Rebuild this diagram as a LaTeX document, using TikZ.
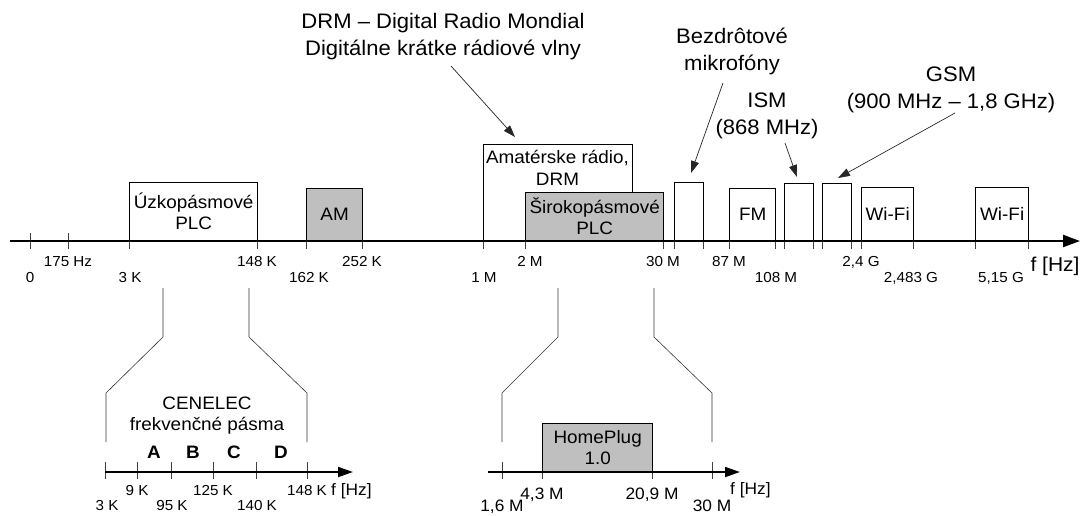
\documentclass[tikz,border=0pt]{standalone}
\usepackage{fontspec}
\setmainfont{Liberation Sans}[FakeStretch=1.05]
\usetikzlibrary{arrows.meta}
\begin{document}
\begin{tikzpicture}[x=1pt,y=-1pt,
  band/.style={draw=black,line width=1.3pt,fill=white,inner sep=0pt,anchor=south west,align=center,font=\fontsize{18}{21}\selectfont},
  gband/.style={band,fill=gray!50},
  tk/.style={draw=gray!50!black,line width=0.8pt},
  lbl/.style={font=\fontsize{14.5}{14.5}\selectfont,anchor=base,inner sep=0pt},
  blbl/.style={font=\fontsize{16.5}{16.5}\selectfont,anchor=base,inner sep=0pt},
  abcd/.style={font=\fontsize{18}{18}\selectfont\bfseries,anchor=base,inner sep=0pt},
  note/.style={font=\fontsize{21}{27}\selectfont,align=center,inner sep=0pt},
  callout/.style={draw=gray!30!black,line width=0.7pt,-{Triangle[length=12pt,width=8pt]}},
  zoomline/.style={draw=gray!40!black,line width=0.6pt},
  axis/.style={draw=black,line width=2.2pt,-{Triangle[length=17pt,width=12pt]}},
  subaxis/.style={draw=black,line width=1.8pt,-{Triangle[length=15pt,width=10pt]}},
]
\useasboundingbox (0,0) rectangle (1087,515);
\fill[white] (0,0) rectangle (1087,515);

% ---------- main axis ticks ----------
\foreach \x in {30,68} \draw[tk] (\x,233) -- (\x,249);
\foreach \x in {129,257,306,362,483,525,663,674,703,729,775,784,813,822,851,861,913,975,1028}
  \draw[tk] (\x,241) -- (\x,249);

% ---------- bands ----------
\node[band,minimum width=128pt,minimum height=58pt] (uzk) at (129,241) {Úzkopásmové\\PLC};
\node[gband,minimum width=56pt,minimum height=52pt] (am) at (306,241) {AM};
\node[band,minimum width=149pt,minimum height=96pt] (amat) at (483,241) {};
\node[anchor=north,inner sep=0pt,align=center,font=\fontsize{18}{22}\selectfont] (amattxt) at (557.5,150) {Amatérske rádio,\\DRM};
\node[gband,minimum width=138pt,minimum height=48pt] (siro) at (525,241) {Širokopásmové\\PLC};
\node[band,minimum width=29pt,minimum height=58pt] (mic) at (674,241) {};
\node[band,minimum width=46pt,minimum height=52pt] (fm) at (729,241) {FM};
\node[band,minimum width=29pt,minimum height=57pt] (ism) at (784,241) {};
\node[band,minimum width=29pt,minimum height=57pt] (gsm) at (822,241) {};
\node[band,minimum width=52pt,minimum height=53pt] (wifi1) at (861,241) {Wi-Fi};
\node[band,minimum width=53pt,minimum height=53pt] (wifi2) at (975,241) {Wi-Fi};

% ---------- main axis ----------
\coordinate (ax0) at (10,241);
\coordinate (ax1) at (1080,241);
\draw[axis] (ax0) -- (ax1);

% ---------- main tick labels ----------
\node[lbl] (l175) at (68,266) {175 Hz};
\node[lbl] (l148) at (257,266) {148 K};
\node[lbl] (l252) at (362,266) {252 K};
\node[lbl] (l2M) at (530,266) {2 M};
\node[lbl] (l30M) at (663,266) {30 M};
\node[lbl] (l87) at (729,266) {87 M};
\node[lbl] (l24) at (861,266) {2,4 G};
\node[lbl] (l0) at (30,282) {0};
\node[lbl] (l3K) at (130,282) {3 K};
\node[lbl] (l162) at (309,282) {162 K};
\node[lbl] (l1M) at (484,282) {1 M};
\node[lbl] (l108) at (776,282) {108 M};
\node[lbl] (l2483) at (911,282) {2,483 G};
\node[lbl] (l515) at (1001,282) {5,15 G};
\node[anchor=base,inner sep=0pt,font=\fontsize{20}{20}\selectfont] (fhz) at (1055,271) {f [Hz]};

% ---------- callout notes ----------
\node[note] (drm) at (443,37) {DRM – Digital Radio Mondial\\Digitálne krátke rádiové vlny};
\node[note] (bez) at (732,51) {Bezdrôtové\\mikrofóny};
\node[note] (ismn) at (767,116) {ISM\\(868 MHz)};
\node[note] (gsmn) at (951,90) {GSM\\(900 MHz – 1,8 GHz)};

\coordinate (drmA) at (451,66);  \coordinate (drmB) at (515,137);
\coordinate (bezA) at (723,83);  \coordinate (bezB) at (691,173);
\coordinate (ismA) at (785,143); \coordinate (ismB) at (797,177);
\coordinate (gsmA) at (955,113); \coordinate (gsmB) at (838,178);
\draw[callout] (drmA) -- (drmB);
\draw[callout] (bezA) -- (bezB);
\draw[callout] (ismA) -- (ismB);
\draw[callout] (gsmA) -- (gsmB);

% ---------- zoom connectors ----------
\draw[zoomline] (163,288) -- (163,337) -- (106,393) -- (106,442);
\draw[zoomline] (249,288) -- (249,337) -- (307,393) -- (307,442);
\draw[zoomline] (558,288) -- (558,337) -- (502,393) -- (502,442);
\draw[zoomline] (654,288) -- (654,337) -- (712,393) -- (712,442);

% ---------- CENELEC sub-axis ----------
\foreach \x in {105,137,171,213,256,307} \draw[tk] (\x,462) -- (\x,479);
\coordinate (ca0) at (105,472);
\coordinate (ca1) at (353,472);
\draw[subaxis] (ca0) -- (ca1);
\node[note,font=\fontsize{18}{21}\selectfont] (cen) at (207,416) {CENELEC\\frekvenčné pásma};
\node[abcd] (bA) at (154,458) {A};
\node[abcd] (bB) at (193,458) {B};
\node[abcd] (bC) at (234,458) {C};
\node[abcd] (bD) at (281,458) {D};
\node[lbl] (c9) at (137,495) {9 K};
\node[lbl] (c125) at (213,495) {125 K};
\node[lbl] (c148) at (307,495) {148 K};
\node[lbl] (c3) at (107,510) {3 K};
\node[lbl] (c95) at (172,510) {95 K};
\node[lbl] (c140) at (257,510) {140 K};
\node[anchor=base west,inner sep=0pt,font=\fontsize{16.5}{16.5}\selectfont] (cfhz) at (331,495) {f [Hz]};

% ---------- HomePlug sub-axis ----------
\foreach \x in {502,712} \draw[tk] (\x,462) -- (\x,479);
\foreach \x in {542,652} \draw[tk] (\x,472) -- (\x,479);
\node[gband,minimum width=110pt,minimum height=48pt] (hp) at (542,472) {HomePlug\\1.0};
\coordinate (ha0) at (488,472);
\coordinate (ha1) at (740,472);
\draw[subaxis] (ha0) -- (ha1);
\node[blbl] (h43) at (542,499) {4,3 M};
\node[blbl] (h209) at (652,499) {20,9 M};
\node[blbl] (h16) at (502,511) {1,6 M};
\node[blbl] (h30) at (712,511) {30 M};
\node[anchor=base west,inner sep=0pt,font=\fontsize{16.5}{16.5}\selectfont] (hfhz) at (730,494) {f [Hz]};
\end{tikzpicture}
\end{document}
